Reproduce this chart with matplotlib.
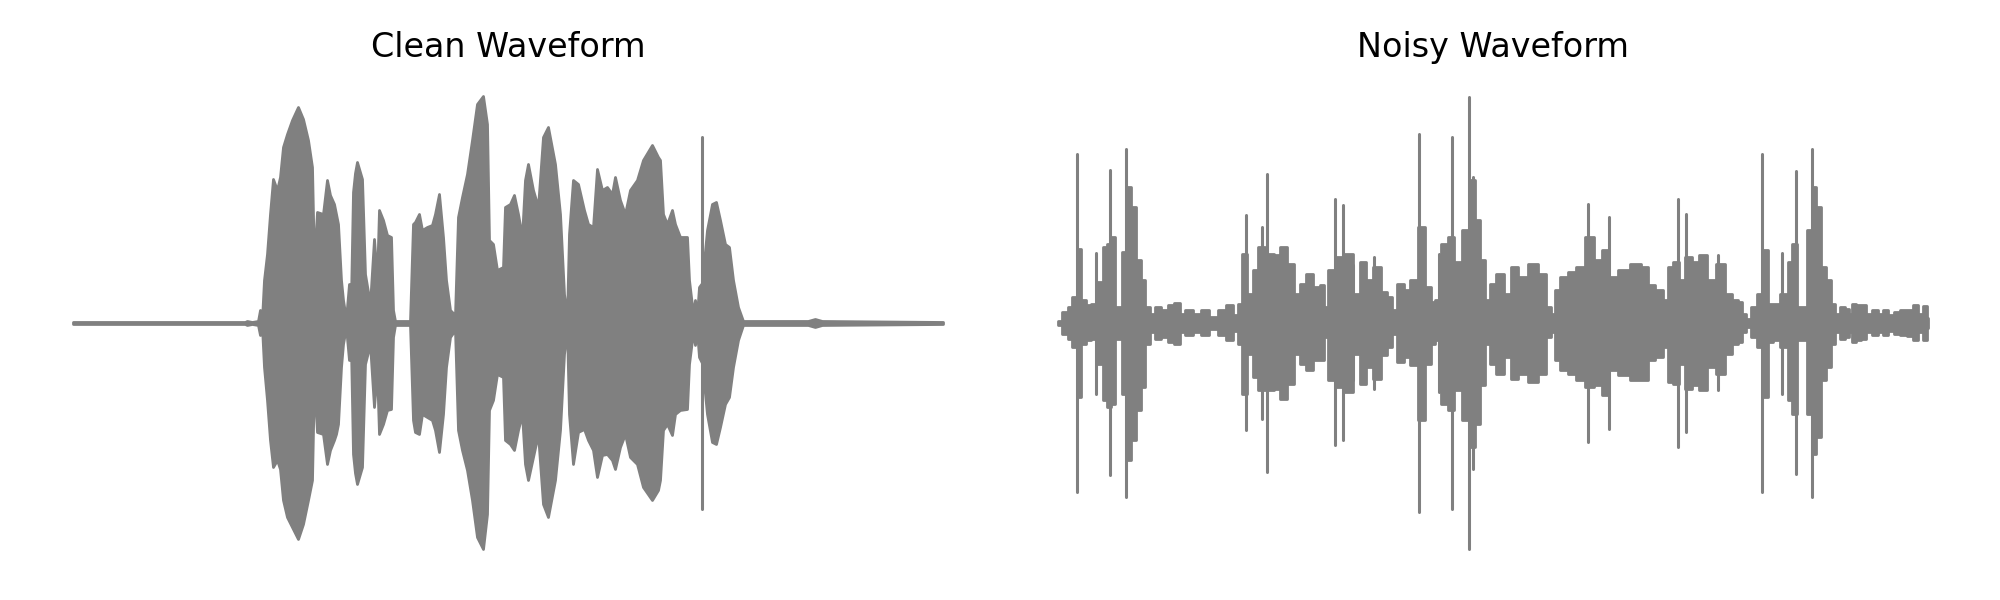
import numpy as np
import matplotlib
matplotlib.use('Agg')
import matplotlib.pyplot as plt

# Envelope: frame index, upper level, lower level
clean_t = [0, 172, 174, 179, 185, 187, 189, 191, 194, 197, 200, 204, 207, 210, 214, 219,
           225, 230, 235, 239, 241, 244, 250, 254, 257, 261, 263, 265, 268, 270, 273, 276,
           278, 280, 282, 284, 289, 292, 297, 301, 304, 306, 310, 314, 318, 320, 322, 337,
           340, 342, 346, 349, 354, 359, 362, 366, 370, 373, 377, 382, 385, 389, 394, 399,
           404, 410, 414, 416, 420, 424, 430, 432, 437, 441, 445, 449, 452, 455, 460, 465,
           470, 475, 482, 487, 491, 494, 496, 500, 505, 511, 515, 520, 524, 529, 534, 539,
           542, 547, 552, 557, 564, 570, 579, 585, 587, 590, 594, 599, 602, 607, 614, 616,
           620, 622, 624, 626, 629, 634, 639, 643, 647, 652, 656, 660, 665, 670, 735, 742,
           749, 870]
clean_hi = [1, 1, 2, 1, 2, 13, 4, 43, 69, 109, 144, 133, 146, 176, 189, 203,
            216, 204, 183, 156, 59, 111, 109, 143, 128, 119, 109, 99, 43, 23, 4, 39,
            26, 131, 150, 161, 144, 49, 19, 84, 43, 113, 103, 88, 86, 13, 2, 2,
            99, 101, 109, 93, 96, 98, 109, 129, 86, 43, 13, 8, 106, 126, 149, 183,
            219, 227, 199, 83, 79, 53, 56, 116, 119, 128, 109, 86, 143, 159, 133, 116,
            186, 196, 159, 109, 29, 6, 89, 143, 139, 113, 99, 96, 154, 133, 136, 129,
            146, 123, 109, 133, 143, 163, 178, 166, 163, 109, 99, 113, 99, 86, 86, 43,
            9, 23, 8, 36, 40, 93, 119, 121, 103, 79, 76, 43, 16, 2, 2, 4,
            2, 1]
clean_lo = [1, 1, 2, 1, 2, 12, 4, 44, 77, 117, 144, 137, 146, 177, 194, 204,
            216, 201, 177, 157, 57, 109, 111, 141, 127, 117, 111, 101, 44, 21, 4, 37,
            26, 131, 150, 161, 144, 41, 21, 84, 47, 111, 101, 87, 86, 14, 2, 2,
            97, 109, 111, 91, 94, 97, 107, 129, 91, 44, 14, 7, 107, 127, 147, 177,
            214, 226, 191, 87, 77, 51, 54, 117, 121, 127, 107, 91, 141, 157, 134, 111,
            181, 194, 157, 107, 31, 6, 91, 141, 109, 106, 117, 127, 154, 132, 131, 137,
            146, 124, 111, 134, 141, 164, 177, 167, 157, 107, 101, 112, 91, 87, 86, 41,
            9, 22, 8, 34, 40, 91, 119, 121, 104, 81, 74, 44, 17, 2, 2, 4,
            2, 1]
clean_spike_t = [629]
clean_spike_hi = [186]
clean_spike_lo = [186]

noisy_t = [0, 7, 12, 16, 21, 25, 30, 35, 42, 47, 50, 55, 58, 62, 65, 71, 75, 80, 85, 89,
           95, 99, 107, 112, 119, 124, 130, 139, 147, 155, 164, 172, 177, 182, 185, 192,
           197, 202, 212, 219, 225, 232, 239, 245, 251, 259, 264, 268, 272, 282, 290, 299,
           305, 310, 320, 325, 332, 336, 342, 349, 355, 364, 370, 375, 379, 387, 392, 400,
           407, 414, 419, 425, 429, 434, 442, 450, 455, 464, 475, 484, 491, 495, 499, 505,
           514, 522, 532, 540, 547, 555, 565, 579, 587, 592, 602, 607, 612, 617, 624, 630,
           637, 645, 652, 664, 670, 677, 682, 686, 690, 695, 702, 707, 712, 717, 727, 732,
           735, 742, 747, 751, 756, 760, 765, 770, 775, 779, 784, 789, 792, 796, 800, 805,
           810, 817, 822, 827, 832, 839, 845, 852, 857, 862, 867, 870]
noisy_hi = [2, 11, 16, 26, 74, 23, 18, 19, 41, 76, 79, 86, 16, 16, 71, 136, 116, 63, 43, 16,
            9, 16, 13, 18, 20, 9, 13, 9, 13, 6, 13, 18, 8, 19, 69, 29,
            53, 76, 69, 68, 76, 59, 29, 39, 49, 36, 38, 16, 53, 66, 69, 29,
            61, 43, 56, 31, 26, 13, 39, 33, 43, 96, 36, 21, 23, 79, 86, 61,
            93, 143, 103, 63, 23, 39, 49, 29, 56, 46, 59, 49, 16, 9, 33, 46,
            51, 56, 86, 63, 73, 46, 53, 59, 56, 38, 33, 23, 56, 61, 43, 66,
            61, 68, 43, 59, 29, 23, 21, 9, 4, 16, 29, 73, 19, 19, 29, 61,
            79, 16, 16, 93, 136, 116, 56, 43, 19, 9, 16, 14, 9, 19, 18, 18,
            9, 13, 9, 13, 8, 11, 13, 13, 18, 9, 17, 5]
noisy_lo = [2, 11, 16, 24, 74, 21, 17, 16, 41, 77, 84, 81, 16, 16, 71, 137, 117, 87, 64, 21,
            9, 16, 14, 19, 21, 9, 12, 9, 12, 6, 12, 17, 8, 21, 71, 31,
            54, 67, 67, 66, 76, 61, 31, 41, 47, 37, 37, 14, 57, 64, 69, 31,
            61, 44, 56, 32, 24, 11, 39, 34, 42, 97, 41, 21, 17, 81, 87, 67,
            97, 124, 101, 62, 21, 41, 51, 34, 56, 51, 59, 51, 14, 9, 37, 47,
            51, 57, 64, 62, 72, 47, 52, 57, 57, 37, 34, 24, 59, 61, 41, 66,
            62, 67, 44, 51, 31, 21, 19, 9, 4, 14, 24, 74, 19, 17, 24, 77,
            91, 17, 17, 91, 131, 114, 57, 44, 21, 9, 16, 14, 9, 19, 17, 16,
            9, 12, 9, 12, 8, 11, 12, 13, 17, 9, 17, 5]
# isolated clicks in the noisy clip
noisy_spike_t = [19, 38, 52, 68, 188, 204, 209, 277, 285, 295, 316, 361, 381, 394, 411,
                 415, 530, 551, 620, 628, 660, 704, 724, 738, 754]
noisy_spike_hi = [169, 70, 153, 174, 108, 96, 149, 124, 118, 58, 66, 189, 69, 186, 226,
                  146, 119, 106, 124, 109, 68, 169, 70, 152, 174]
noisy_spike_lo = [169, 71, 152, 174, 107, 96, 149, 122, 117, 57, 66, 189, 69, 186, 226,
                  146, 119, 106, 124, 109, 67, 169, 71, 151, 174]

titles = ['Clean Waveform', 'Noisy Waveform']

fig = plt.figure(figsize=(20, 6), dpi=100)
ax1 = fig.add_axes([0.01475, 0.0317, 0.4785, 0.86])
ax2 = fig.add_axes([0.50725, 0.0317, 0.4785, 0.86])

panels = [
    (ax1, clean_t, clean_hi, clean_lo, clean_spike_t, clean_spike_hi, clean_spike_lo, None),
    (ax2, noisy_t, noisy_hi, noisy_lo, noisy_spike_t, noisy_spike_hi, noisy_spike_lo, 'mid'),
]
for (ax, t, hi, lo, st, shi, slo, step), title in zip(panels, titles):
    t = np.array(t)
    ax.fill_between(t, np.array(hi), -np.array(lo), step=step, color='gray',
                    edgecolor='gray', linewidth=2, joinstyle='round')
    ax.vlines(st, -np.array(slo), np.array(shi), color='gray', linewidth=2.2,
              capstyle='round')
    ax.set_xlim(-43.5, 913.5)
    ax.set_ylim(-258, 258)
    ax.set_title(title, fontsize=24)
    ax.axis('off')

fig.savefig('out.png', dpi=100)
